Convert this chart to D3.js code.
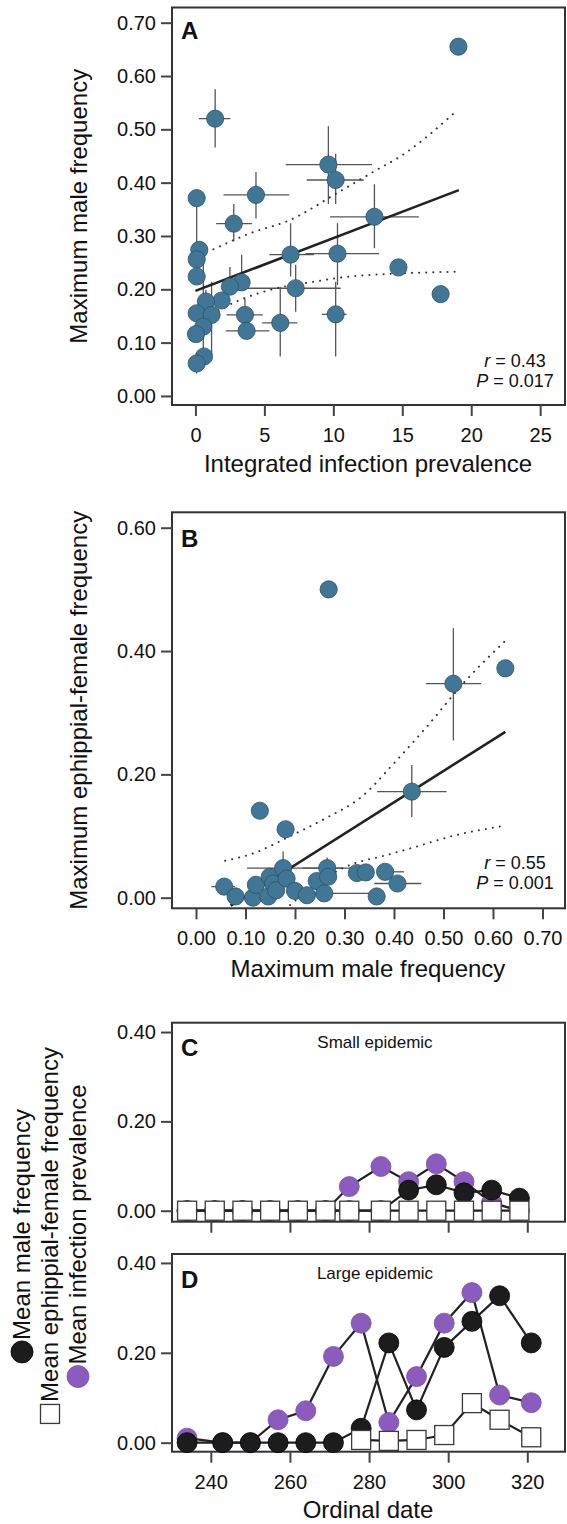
<!DOCTYPE html>
<html>
<head>
<meta charset="utf-8">
<script src="https://cdn.jsdelivr.net/npm/d3@7"></script>
<style>
  body { margin: 0; background: #fff; }
  svg { display: block; }
</style>
</head>
<body>
<div id="chart"></div>
<script>
// ---- panel A: integrated infection prevalence vs maximum male frequency
const aPrev   = [19.07, 1.43, 9.64, 10.17, 4.39, 0.09, 12.98, 2.78, 0.28, 0.09, 0.09, 6.90, 10.30, 14.72, 3.35, 2.50, 7.27, 17.78, 1.90, 0.76, 0.09, 1.17, 3.59, 10.17, 6.15, 0.57, 3.71, 0.04, 0.62, 0.09];
const aMale   = [0.655, 0.520, 0.434, 0.405, 0.377, 0.371, 0.336, 0.323, 0.274, 0.256, 0.224, 0.265, 0.267, 0.241, 0.213, 0.205, 0.202, 0.191, 0.179, 0.177, 0.155, 0.152, 0.152, 0.153, 0.137, 0.130, 0.122, 0.116, 0.074, 0.061];
const aPrevLo = [null, 0.25, 6.55, 8.07, 2.03, null, 9.75, 1.50, null, null, null, 5.36, 7.99, null, null, null, 3.13, null, null, null, null, null, 2.26, 9.17, 4.84, null, 2.20, null, null, null];
const aPrevHi = [null, 2.53, 12.80, 12.20, 6.80, null, 16.20, 4.10, null, null, null, 8.59, 13.32, null, null, null, 10.54, null, null, null, null, null, 4.88, 10.96, 7.39, null, 5.36, null, null, null];
const aMaleLo = [null, 0.466, 0.360, 0.360, 0.333, 0.280, 0.277, 0.290, null, null, null, 0.224, 0.208, null, null, null, 0.158, null, null, null, null, 0.074, null, 0.074, 0.074, 0.073, null, null, null, 0.042];
const aMaleHi = [null, 0.575, 0.506, 0.454, 0.420, null, 0.397, 0.360, 0.290, null, null, 0.324, 0.324, null, 0.265, 0.242, 0.246, null, null, 0.199, null, 0.214, 0.182, 0.214, 0.205, 0.250, null, null, null, null];
const aFitX = [0, 19.1];
const aFitY = [0.197, 0.386];
const aBandUpX = [1.3, 3.96, 6.86, 10.24, 13.15, 14.84, 19.0];
const aBandUpY = [0.275, 0.305, 0.330, 0.380, 0.424, 0.449, 0.536];
const aBandLoX = [1.66, 3.23, 5.89, 8.31, 11.21, 14.11, 19.2];
const aBandLoY = [0.161, 0.180, 0.202, 0.213, 0.224, 0.229, 0.233];
const aXTicks = [0, 5, 10, 15, 20, 25];
const aYTicks = [0, 0.1, 0.2, 0.3, 0.4, 0.5, 0.6, 0.7];

// ---- panel B: maximum male frequency vs maximum ephippial-female frequency
const bMale    = [0.268, 0.520, 0.625, 0.436, 0.129, 0.181, 0.057, 0.080, 0.115, 0.121, 0.146, 0.149, 0.156, 0.162, 0.176, 0.183, 0.200, 0.224, 0.244, 0.259, 0.265, 0.267, 0.325, 0.343, 0.382, 0.365, 0.407];
const bEphip   = [0.500, 0.347, 0.372, 0.172, 0.141, 0.111, 0.018, 0.002, 0.000, 0.021, 0.002, 0.034, 0.023, 0.012, 0.048, 0.031, 0.011, 0.004, 0.027, 0.007, 0.048, 0.034, 0.040, 0.041, 0.042, 0.002, 0.023];
const bMaleLo  = [null, 0.465, null, 0.366, null, null, 0.031, null, null, null, null, null, null, null, 0.103, null, null, null, null, 0.200, 0.215, null, null, null, null, null, 0.360];
const bMaleHi  = [null, 0.576, null, 0.506, null, null, 0.079, null, null, null, null, null, null, null, 0.297, null, null, null, null, 0.370, 0.350, null, null, null, 0.420, null, 0.455];
const bEphipLo = [null, 0.255, null, 0.131, null, null, null, null, null, null, null, null, null, null, null, null, null, null, null, null, null, null, null, null, null, null, null];
const bEphipHi = [null, 0.437, null, 0.215, null, null, null, null, null, null, null, null, null, null, 0.075, null, null, null, null, null, 0.065, null, null, null, null, null, null];
const bFitX = [0.07, 0.625];
const bFitY = [-0.013, 0.269];
const bBandUpX = [0.059, 0.116, 0.188, 0.26, 0.335, 0.40, 0.466, 0.546, 0.623];
const bBandUpY = [0.060, 0.072, 0.099, 0.128, 0.164, 0.218, 0.277, 0.353, 0.415];
const bBandLoX = [0.19, 0.25, 0.311, 0.38, 0.446, 0.513, 0.618];
const bBandLoY = [-0.012, 0.026, 0.053, 0.068, 0.083, 0.099, 0.116];
const bXTicks = [0, 0.1, 0.2, 0.3, 0.4, 0.5, 0.6, 0.7];
const bYTicks = [0, 0.2, 0.4, 0.6];

// ---- panels C, D: time series
const cDates = [234, 241, 248, 255, 262, 269, 275, 283, 290, 297, 304, 311, 318];
const cMale  = [0, 0, 0, 0, 0, 0, 0, 0, 0.046, 0.058, 0.040, 0.046, 0.028];
const cEphip = [0, 0, 0, 0, 0, 0, 0, 0, 0, 0, 0, 0, 0];
const cInf   = [0, 0, 0, 0, 0, 0, 0.054, 0.099, 0.065, 0.105, 0.065, 0.018, 0];
const dDates = [234, 243, 250, 257, 264, 271, 278, 285, 292, 299, 306, 313, 321];
const dMale  = [0, 0, 0, 0, 0, 0, 0.032, 0.222, 0.073, 0.212, 0.270, 0.327, 0.222];
const dEphip = [null, null, null, null, null, null, 0.006, 0.004, 0.006, 0.017, 0.088, 0.051, 0.012];
const dInf   = [0.01, 0, 0, 0.051, 0.071, 0.192, 0.266, 0.045, 0.147, 0.266, 0.334, 0.106, 0.089];
const tsXTicks = [240, 260, 280, 300, 320];
const tsYTicks = [0, 0.2, 0.4];

const font = '"Liberation Sans", Arial, Helvetica, sans-serif';
const blue = "#417796", purple = "#8b5cbe", ink = "#1c1c1c";
const frameL = 172, frameR = 565;

const svg = d3.select("#chart").append("svg")
    .attr("width", 567)
    .attr("height", 1524)
    .attr("font-family", font);

function frame(top, bottom) {
    svg.append("rect")
        .attr("x", frameL).attr("y", top)
        .attr("width", frameR - frameL).attr("height", bottom - top)
        .attr("fill", "none").attr("stroke", "#333").attr("stroke-width", 2);
}

function axes(x, y, bottom, xTicks, yTicks, xFmt) {
    const gy = svg.append("g")
        .attr("transform", `translate(${frameL},0)`)
        .call(d3.axisLeft(y).tickValues(yTicks).tickFormat(d3.format(".2f")).tickSize(11).tickPadding(5));
    const gx = svg.append("g")
        .attr("transform", `translate(0,${bottom})`)
        .call(d3.axisBottom(x).tickValues(xTicks).tickFormat(xFmt).tickSize(11).tickPadding(12));
    [gy, gx].forEach(function (g) {
        g.attr("font-family", font).attr("font-size", 20);
        g.select(".domain").remove();
        g.selectAll(".tick line").attr("stroke", "#444").attr("stroke-width", 2);
        g.selectAll(".tick text").attr("fill", "#111");
    });
}

function label(txt, x, y, size, opts) {
    const t = svg.append("text").attr("x", x).attr("y", y)
        .attr("font-size", size).attr("fill", "#111").text(txt);
    if (opts && opts.bold) t.attr("font-weight", "bold");
    if (opts && opts.anchor) t.attr("text-anchor", opts.anchor);
    return t;
}

function yTitle(txt, top, bottom) {
    svg.append("text")
        .attr("transform", `translate(87,${(top + bottom) / 2}) rotate(-90)`)
        .attr("text-anchor", "middle")
        .attr("font-size", 24).attr("fill", "#111")
        .text(txt);
}

function stats(rTxt, pTxt, yR) {
    const t1 = svg.append("text").attr("x", 515).attr("y", yR)
        .attr("text-anchor", "middle").attr("font-size", 18).attr("fill", "#111");
    t1.append("tspan").attr("font-style", "italic").text("r");
    t1.append("tspan").text(" = " + rTxt);
    const t2 = svg.append("text").attr("x", 515).attr("y", yR + 20)
        .attr("text-anchor", "middle").attr("font-size", 18).attr("fill", "#111");
    t2.append("tspan").attr("font-style", "italic").text("P");
    t2.append("tspan").text(" = " + pTxt);
}

function scatter(o) {
    const x = d3.scaleLinear().domain(o.xDom).range([frameL, frameR]);
    const y = d3.scaleLinear().domain(o.yDom).range([o.bottom, o.top]);
    frame(o.top, o.bottom);
    axes(x, y, o.bottom, o.xTicks, o.yTicks, o.xFmt);

    const pts = o.xs.map(function (d, i) {
        return {x: d, y: o.ys[i], xlo: o.xlo[i], xhi: o.xhi[i], ylo: o.ylo[i], yhi: o.yhi[i]};
    });
    const g = svg.append("g");

    // error bars
    g.selectAll(".hbar")
        .data(pts.filter(d => d.xlo != null || d.xhi != null))
        .enter().append("line")
        .attr("x1", d => x(d.xlo != null ? d.xlo : d.x))
        .attr("x2", d => x(d.xhi != null ? d.xhi : d.x))
        .attr("y1", d => y(d.y)).attr("y2", d => y(d.y))
        .attr("stroke", "#555").attr("stroke-width", 1.3);
    g.selectAll(".vbar")
        .data(pts.filter(d => d.ylo != null || d.yhi != null))
        .enter().append("line")
        .attr("y1", d => y(d.ylo != null ? d.ylo : d.y))
        .attr("y2", d => y(d.yhi != null ? d.yhi : d.y))
        .attr("x1", d => x(d.x)).attr("x2", d => x(d.x))
        .attr("stroke", "#555").attr("stroke-width", 1.3);

    // confidence band and fit
    const line = d3.line().x(d => x(d[0])).y(d => y(d[1])).curve(d3.curveMonotoneX);
    [[o.upX, o.upY], [o.loX, o.loY]].forEach(function (b) {
        g.append("path")
            .attr("d", line(b[0].map((v, i) => [v, b[1][i]])))
            .attr("fill", "none").attr("stroke", "#333").attr("stroke-width", 2)
            .attr("stroke-linecap", "round").attr("stroke-dasharray", "0.1,7");
    });
    g.append("path")
        .attr("d", line(o.fitX.map((v, i) => [v, o.fitY[i]])))
        .attr("fill", "none").attr("stroke", "#222").attr("stroke-width", 2.6);

    g.selectAll("circle")
        .data(pts)
        .enter().append("circle")
        .attr("cx", d => x(d.x)).attr("cy", d => y(d.y)).attr("r", 8.6)
        .attr("fill", blue).attr("stroke", "#2e5063").attr("stroke-width", 0.8);
}

function series(o) {
    const x = d3.scaleLinear().domain([230.19, 329.53]).range([frameL, frameR]);
    const y = d3.scaleLinear().domain(o.yDom).range([o.bottom, o.top]);
    frame(o.top, o.bottom);
    axes(x, y, o.bottom, tsXTicks, tsYTicks, o.showX ? d3.format("d") : () => "");

    const line = d3.line()
        .defined(d => d[1] != null)
        .x(d => x(d[0])).y(d => y(d[1]));
    const sets = [
        {vals: o.inf, kind: "circle", fill: purple, stroke: "#7650a6"},
        {vals: o.male, kind: "circle", fill: ink, stroke: "#000"},
        {vals: o.ephip, kind: "square", fill: "#fff", stroke: "#3a3a3a"}
    ];
    sets.forEach(function (s) {
        const d = o.dates.map((v, i) => [v, s.vals[i]]);
        const g = svg.append("g");
        g.append("path").attr("d", line(d))
            .attr("fill", "none").attr("stroke", "#222").attr("stroke-width", 2.2);
        const pts = d.filter(p => p[1] != null);
        if (s.kind === "circle") {
            g.selectAll("circle").data(pts).enter().append("circle")
                .attr("cx", p => x(p[0])).attr("cy", p => y(p[1])).attr("r", 10)
                .attr("fill", s.fill).attr("stroke", s.stroke).attr("stroke-width", 0.8);
        } else {
            g.selectAll("rect").data(pts).enter().append("rect")
                .attr("x", p => x(p[0]) - 9.5).attr("y", p => y(p[1]) - 9.5)
                .attr("width", 19).attr("height", 19)
                .attr("fill", s.fill).attr("stroke", s.stroke).attr("stroke-width", 1.3);
        }
    });
    label(o.title, 375, o.top + 25, 17, {anchor: "middle"});
}

// ---- A
scatter({
    top: 7.5, bottom: 405, xDom: [-1.7, 26.8], yDom: [-0.017, 0.7285],
    xTicks: aXTicks, yTicks: aYTicks, xFmt: d3.format("d"),
    xs: aPrev, ys: aMale, xlo: aPrevLo, xhi: aPrevHi, ylo: aMaleLo, yhi: aMaleHi,
    fitX: aFitX, fitY: aFitY, upX: aBandUpX, upY: aBandUpY, loX: aBandLoX, loY: aBandLoY
});
label("A", 181, 39, 24, {bold: true});
stats("0.43", "0.017", 366.5);
label("Integrated infection prevalence", 368, 472, 24, {anchor: "middle"});
yTitle("Maximum male frequency", 7.5, 405);

// ---- B
scatter({
    top: 512.3, bottom: 908.3, xDom: [-0.0485, 0.7455], yDom: [-0.0172, 0.625],
    xTicks: bXTicks, yTicks: bYTicks, xFmt: d3.format(".2f"),
    xs: bMale, ys: bEphip, xlo: bMaleLo, xhi: bMaleHi, ylo: bEphipLo, yhi: bEphipHi,
    fitX: bFitX, fitY: bFitY, upX: bBandUpX, upY: bBandUpY, loX: bBandLoX, loY: bBandLoY
});
label("B", 181, 546.5, 24, {bold: true});
stats("0.55", "0.001", 869);
label("Maximum male frequency", 368, 977, 24, {anchor: "middle"});
yTitle("Maximum ephippial-female frequency", 512.3, 908.3);

// ---- C, D
series({top: 1022.7, bottom: 1221.7, yDom: [-0.0246, 0.4209], dates: cDates,
    male: cMale, ephip: cEphip, inf: cInf, title: "Small epidemic", showX: false});
label("C", 181, 1056, 24, {bold: true});
series({top: 1254, bottom: 1451.7, yDom: [-0.0201, 0.4199], dates: dDates,
    male: dMale, ephip: dEphip, inf: dInf, title: "Large epidemic", showX: true});
label("D", 181, 1288, 24, {bold: true});
label("Ordinal date", 368, 1518, 24, {anchor: "middle"});

// ---- rotated legend
const legendItems = [
    {text: "Mean male frequency", kind: "circle", fill: ink, base: 30},
    {text: "Mean ephippial-female frequency", kind: "square", fill: "#fff", base: 58},
    {text: "Mean infection prevalence", kind: "circle", fill: purple, base: 86}
];
const lg = svg.append("g").attr("transform", "rotate(-90)");
legendItems.forEach(function (it) {
    const t = lg.append("text").attr("y", it.base)
        .attr("font-size", 24).attr("fill", "#111").text(it.text);
    const len = t.node().getComputedTextLength();
    const m = 22, total = m + 1 + len;
    const u0 = -1236 - total / 2;
    t.attr("x", u0 + m + 1);
    if (it.kind === "circle") {
        lg.append("circle").attr("cx", u0 + m / 2).attr("cy", it.base - 8).attr("r", 11)
            .attr("fill", it.fill).attr("stroke", it.fill === ink ? "#000" : "#7650a6").attr("stroke-width", 0.8);
    } else {
        lg.append("rect").attr("x", u0 + 1.5).attr("y", it.base - 17.5)
            .attr("width", 19).attr("height", 19)
            .attr("fill", "#fff").attr("stroke", "#3a3a3a").attr("stroke-width", 1.3);
    }
});
</script>
</body>
</html>
